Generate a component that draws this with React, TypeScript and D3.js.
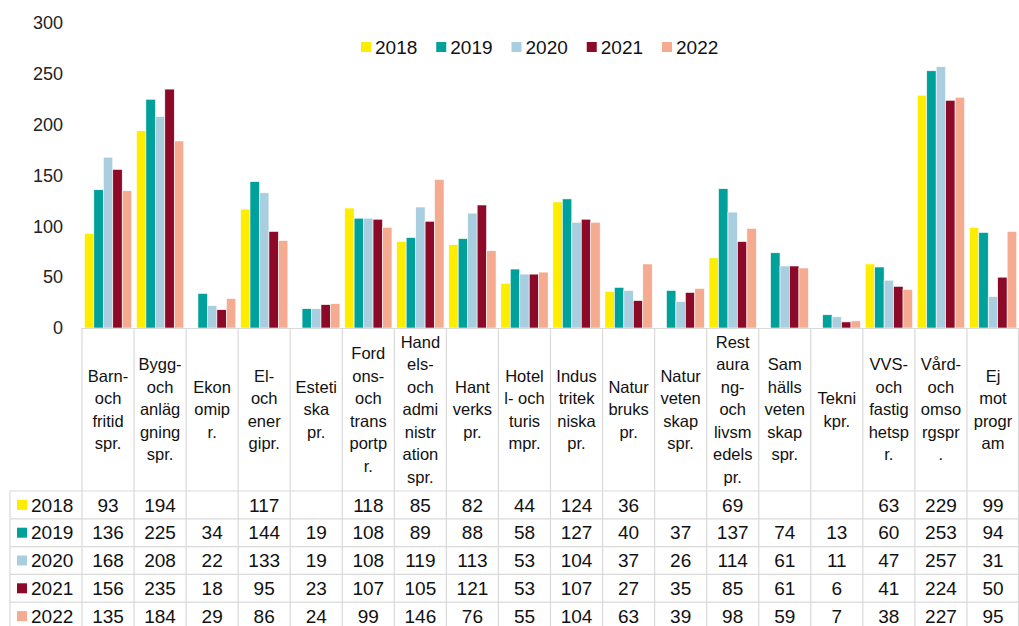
import React, { useEffect, useRef } from 'react';
import * as d3 from 'd3';

const years = ['2018', '2019', '2020', '2021', '2022'];
const colors = ['#FFED00', '#00A19A', '#A9CEE0', '#8C0A28', '#F5AB8F'];

// wrapped the same way as in the reference table
const categories = [
  ['Barn-', 'och', 'fritid', 'spr.'],
  ['Bygg-', 'och', 'anläg', 'gning', 'spr.'],
  ['Ekon', 'omip', 'r.'],
  ['El-', 'och', 'ener', 'gipr.'],
  ['Esteti', 'ska', 'pr.'],
  ['Ford', 'ons-', 'och', 'trans', 'portp', 'r.'],
  ['Hand', 'els-', 'och', 'admi', 'nistr', 'ation', 'spr.'],
  ['Hant', 'verks', 'pr.'],
  ['Hotel', 'l- och', 'turis', 'mpr.'],
  ['Indus', 'tritek', 'niska', 'pr.'],
  ['Natur', 'bruks', 'pr.'],
  ['Natur', 'veten', 'skap', 'spr.'],
  ['Rest', 'aura', 'ng-', 'och', 'livsm', 'edels', 'pr.'],
  ['Sam', 'hälls', 'veten', 'skap', 'spr.'],
  ['Tekni', 'kpr.'],
  ['VVS-', 'och', 'fastig', 'hetsp', 'r.'],
  ['Vård-', 'och', 'omso', 'rgspr', '.'],
  ['Ej', 'mot', 'progr', 'am'],
];

const v2018 = [93, 194, null, 117, null, 118, 85, 82, 44, 124, 36, null, 69, null, null, 63, 229, 99];
const v2019 = [136, 225, 34, 144, 19, 108, 89, 88, 58, 127, 40, 37, 137, 74, 13, 60, 253, 94];
const v2020 = [168, 208, 22, 133, 19, 108, 119, 113, 53, 104, 37, 26, 114, 61, 11, 47, 257, 31];
const v2021 = [156, 235, 18, 95, 23, 107, 105, 121, 53, 107, 27, 35, 85, 61, 6, 41, 224, 50];
const v2022 = [135, 184, 29, 86, 24, 99, 146, 76, 55, 104, 63, 39, 98, 59, 7, 38, 227, 95];
const series = [v2018, v2019, v2020, v2021, v2022];

const yTicks = [0, 50, 100, 150, 200, 250, 300];

const W = 1019;
const H = 626;
const FONT = '"Liberation Sans", Arial, sans-serif';

function App() {
  const ref = useRef<SVGSVGElement>(null);

  useEffect(() => {
    const svg = d3.select(ref.current);
    svg.selectAll('*').remove();

    const left = 82;
    const right = 1019;
    const y0 = 328;
    const headerBottom = 491;
    const rowH = 27.8;
    const tableLeft = 10;
    const gridColor = '#d9d9d9';

    const x = d3.scaleBand<number>()
      .domain(d3.range(categories.length))
      .range([left, right])
      .paddingInner(0)
      .paddingOuter(0);

    const xInner = d3.scaleBand<number>()
      .domain(d3.range(years.length))
      .range([0, x.bandwidth()])
      .paddingOuter(0.25)
      .paddingInner(0);

    const y = d3.scaleLinear().domain([0, 300]).range([y0, 23]);

    // y tick labels
    svg.append('g')
      .selectAll('text')
      .data(yTicks)
      .join('text')
      .attr('x', 63)
      .attr('y', (d) => y(d))
      .attr('dy', '0.35em')
      .attr('text-anchor', 'end')
      .attr('font-size', 18)
      .attr('font-family', FONT)
      .attr('fill', '#222')
      .text((d) => d);

    // bars
    const groups = svg.append('g')
      .selectAll('g')
      .data(categories.map((_, i) => i))
      .join('g')
      .attr('transform', (i) => `translate(${x(i)},0)`);

    groups.selectAll('rect')
      .data((i) => series.map((s, k) => ({ k, v: s[i] })).filter((d) => d.v != null))
      .join('rect')
      .attr('x', (d) => xInner(d.k)!)
      .attr('width', xInner.bandwidth())
      .attr('y', (d) => y(d.v as number))
      .attr('height', (d) => y0 - y(d.v as number))
      .attr('fill', (d) => colors[d.k])
      .attr('stroke', '#fff')
      .attr('stroke-width', 0.6);

    // table grid
    const tableBottom = headerBottom + rowH * years.length;
    const grid = svg.append('g').attr('stroke', gridColor).attr('stroke-width', 1.2);
    grid.append('line')
      .attr('x1', left).attr('x2', right)
      .attr('y1', y0 + 0.5).attr('y2', y0 + 0.5);
    d3.range(categories.length + 1).forEach((i) => {
      const xx = i === categories.length ? right - 0.5 : x(i)!;
      grid.append('line')
        .attr('x1', xx).attr('x2', xx)
        .attr('y1', y0).attr('y2', tableBottom);
    });
    d3.range(years.length + 1).forEach((r) => {
      grid.append('line')
        .attr('x1', tableLeft).attr('x2', right)
        .attr('y1', headerBottom + r * rowH).attr('y2', headerBottom + r * rowH);
    });
    grid.append('line')
      .attr('x1', tableLeft).attr('x2', tableLeft)
      .attr('y1', headerBottom).attr('y2', tableBottom);

    // category labels
    const lineH = 22.5;
    const headerMid = (y0 + headerBottom) / 2;
    categories.forEach((lines, i) => {
      const cx = x(i)! + x.bandwidth() / 2;
      const top = headerMid - ((lines.length - 1) * lineH) / 2;
      const t = svg.append('text')
        .attr('text-anchor', 'middle')
        .attr('font-size', 16.5)
        .attr('font-family', FONT)
        .attr('fill', '#111');
      lines.forEach((ln, j) => {
        t.append('tspan')
          .attr('x', cx)
          .attr('y', top + j * lineH)
          .attr('dy', '0.35em')
          .text(ln);
      });
    });

    // table rows
    years.forEach((yr, r) => {
      const cy = headerBottom + r * rowH + rowH / 2;
      svg.append('rect')
        .attr('x', 17).attr('y', cy - 5)
        .attr('width', 10).attr('height', 10)
        .attr('fill', colors[r]);
      svg.append('text')
        .attr('x', 31).attr('y', cy)
        .attr('dy', '0.35em')
        .attr('font-size', 19)
        .attr('font-family', FONT)
        .attr('fill', '#111')
        .text(yr);
      series[r].forEach((v, i) => {
        if (v == null) return;
        svg.append('text')
          .attr('x', x(i)! + x.bandwidth() / 2)
          .attr('y', cy)
          .attr('dy', '0.35em')
          .attr('text-anchor', 'middle')
          .attr('font-size', 19)
          .attr('font-family', FONT)
          .attr('fill', '#111')
          .text(v);
      });
    });

    // legend
    const lx = d3.scalePoint<string>().domain(years).range([361, 662]);
    const legend = svg.append('g')
      .selectAll('g')
      .data(years)
      .join('g')
      .attr('transform', (d) => `translate(${lx(d)},47)`);
    legend.append('rect')
      .attr('x', 0).attr('y', -5)
      .attr('width', 10).attr('height', 10)
      .attr('fill', (_, i) => colors[i]);
    legend.append('text')
      .attr('x', 14).attr('dy', '0.35em')
      .attr('font-size', 19)
      .attr('font-family', FONT)
      .attr('fill', '#111')
      .text((d) => d);
  }, []);

  return (
    <svg
      ref={ref}
      width={W}
      height={H}
      style={{ position: 'absolute', left: 0, top: 0, background: '#fff' }}
    />
  );
}

export default App;
